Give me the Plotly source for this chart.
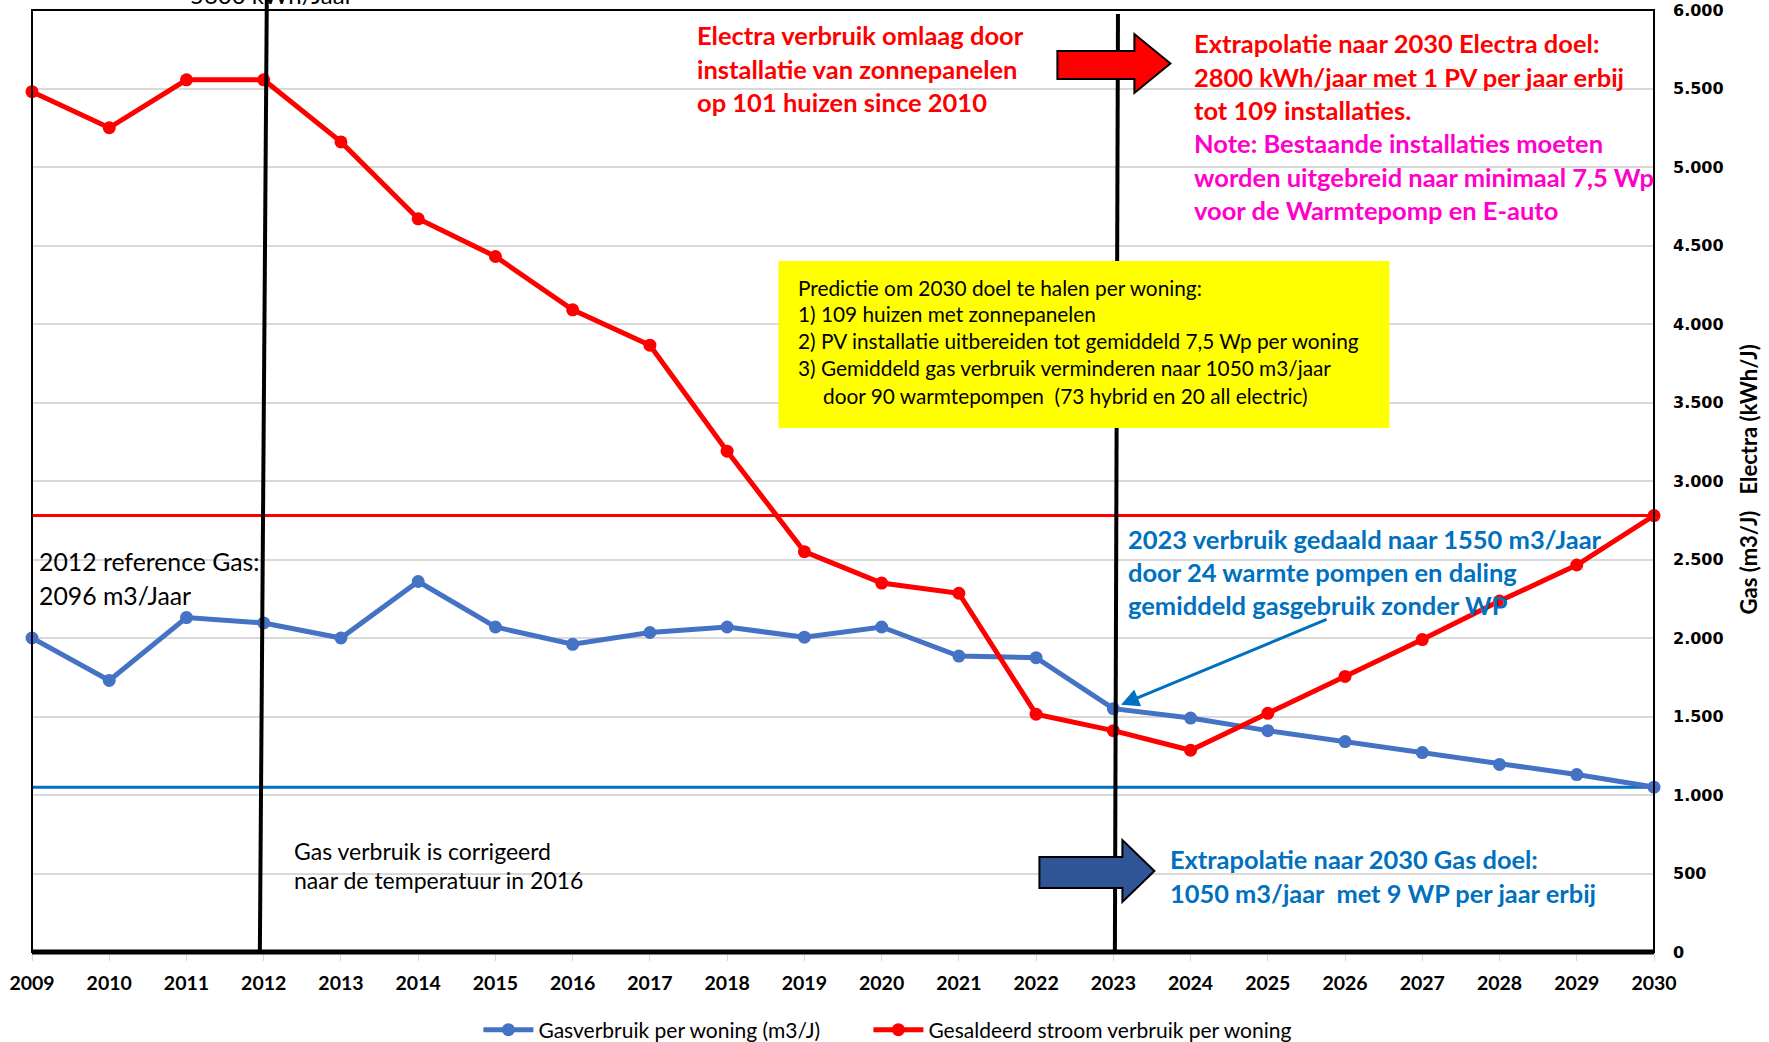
import plotly.graph_objects as go

# ---------------- data ----------------
years = list(range(2009, 2031))
gas = [2000, 1730, 2130, 2096, 2000, 2360, 2070, 1960, 2035, 2070, 2005,
       2070, 1885, 1875, 1550, 1490, 1410, 1340, 1270, 1195, 1130, 1050]
electra = [5480, 5250, 5555, 5555, 5160, 4670, 4430, 4090, 3865, 3190, 2550,
           2350, 2285, 1515, 1410, 1285, 1520, 1755, 1990, 2235, 2465, 2780]
gas_target = 1050
electra_target = 2780
y_ticks = list(range(0, 6001, 500))
gas_name = "Gasverbruik per woning (m3/J)"
electra_name = "Gesaldeerd stroom verbruik per woning"

# ---------------- geometry helpers (page pixels -> paper) ----------------
W, H = 1769, 1042
L, R, T, B = 31.6, 1653.6, 10.0, 952.0


def px(x):
    return (x - L) / (R - L)


def py(y):
    return (B - y) / (B - T)


def yr(year):
    return (year - years[0]) / (years[-1] - years[0])


FONT = "Lato"
RED = "#FF0000"
BLUE_LINE = "#4472C4"
BLUE_TXT = "#0070C0"
MAGENTA = "#FF00CC"

fig = go.Figure()

# target lines
fig.add_trace(go.Scatter(x=[years[0], years[-1]], y=[electra_target] * 2, mode="lines",
                         line=dict(color=RED, width=3), showlegend=False, hoverinfo="skip",
                         cliponaxis=False))
fig.add_trace(go.Scatter(x=[years[0], years[-1]], y=[gas_target] * 2, mode="lines",
                         line=dict(color=BLUE_TXT, width=3), showlegend=False, hoverinfo="skip",
                         cliponaxis=False))

fig.add_trace(go.Scatter(x=years, y=gas, mode="lines+markers", name=gas_name,
                         line=dict(color=BLUE_LINE, width=5),
                         marker=dict(color=BLUE_LINE, size=13), cliponaxis=False,
                         legend="legend"))
fig.add_trace(go.Scatter(x=years, y=electra, mode="lines+markers", name=electra_name,
                         line=dict(color=RED, width=5),
                         marker=dict(color=RED, size=13), cliponaxis=False,
                         legend="legend2"))

shapes = []
# plot border
shapes.append(dict(type="rect", xref="paper", yref="paper", x0=0, y0=0, x1=1, y1=1,
                   line=dict(color="black", width=2), layer="above"))
# thick bottom axis
shapes.append(dict(type="line", xref="paper", yref="paper", x0=0, y0=0, x1=1, y1=0,
                   line=dict(color="black", width=5), layer="above"))
# vertical marker lines (2012 and 2023)
shapes.append(dict(type="line", xref="paper", yref="paper",
                   x0=yr(2012.04), y0=py(0), x1=yr(2011.95), y1=0,
                   line=dict(color="black", width=4), layer="above"))
shapes.append(dict(type="line", xref="paper", yref="paper",
                   x0=yr(2023.06), y0=py(14), x1=yr(2023.02), y1=0,
                   line=dict(color="black", width=4), layer="above"))
# yellow box
shapes.append(dict(type="rect", xref="paper", yref="paper",
                   x0=px(778), x1=px(1389), y0=py(428), y1=py(261),
                   fillcolor="#FFFF00", line=dict(width=0), layer="above"))


def block_arrow(x0, xb, xt, yb0, yb1, yh0, yh1, fill):
    ym = (yh0 + yh1) / 2
    pts = [(x0, yb0), (xb, yb0), (xb, yh0), (xt, ym), (xb, yh1), (xb, yb1), (x0, yb1)]
    path = "M " + " L ".join(f"{px(a):.5f},{py(b):.5f}" for a, b in pts) + " Z"
    return dict(type="path", xref="paper", yref="paper", path=path, fillcolor=fill,
                line=dict(color="black", width=2), layer="above")


shapes.append(block_arrow(1057, 1134, 1170, 51, 79, 34, 93, RED))
shapes.append(block_arrow(1039, 1122, 1154, 857, 888, 840, 902, "#2F5597"))

ann = []


def lines(texts, x, ys, color, size, bold=False):
    for t, y in zip(texts, ys):
        ann.append(dict(text=t, xref="paper", yref="paper", x=px(x), y=py(y),
                        xanchor="left", yanchor="middle", showarrow=False,
                        font=dict(family=FONT, size=size, color=color,
                                  weight="bold" if bold else "normal")))


lines(["Electra verbruik omlaag door", "installatie van zonnepanelen",
       "op 101 huizen since 2010"], 695, [35, 69, 102], RED, 25.5, True)
lines(["Extrapolatie naar 2030 Electra doel:", "2800 kWh/jaar met 1 PV per jaar erbij",
       "tot 109 installaties."], 1192, [43, 77, 110], RED, 25.5, True)
lines(["Note: Bestaande installaties moeten", "worden uitgebreid naar minimaal 7,5 Wp",
       "voor de Warmtepomp en E-auto"], 1192, [143, 177, 210], MAGENTA, 25.5, True)
lines(["Predictie om 2030 doel te halen per woning:", "1) 109 huizen met zonnepanelen",
       "2) PV installatie uitbereiden tot gemiddeld 7,5 Wp per woning",
       "3) Gemiddeld gas verbruik verminderen naar 1050 m3/jaar"],
      796, [287, 313, 340, 367], "black", 20.8)
lines(["door 90 warmtepompen\u00a0\u00a0(73 hybrid en 20 all electric)"], 821, [395], "black", 20.8)
lines(["2012 reference Gas:", "2096 m3/Jaar"], 37, [561, 595], "black", 24.8)
lines(["2023 verbruik gedaald naar 1550 m3/Jaar", "door 24 warmte pompen en daling",
       "gemiddeld gasgebruik zonder WP"], 1126, [539, 572, 605], BLUE_TXT, 25.5, True)
lines(["Gas verbruik is corrigeerd", "naar de temperatuur in 2016"], 292, [851, 880],
      "black", 23)
lines(["Extrapolatie naar 2030 Gas doel:",
       "1050 m3/jaar\u00a0\u00a0met 9 WP per jaar erbij"], 1168, [859, 893], BLUE_TXT, 25.4, True)

# clipped text at the very top
ann.append(dict(text="5600 kWh/Jaar", xref="paper", yref="paper", x=px(272), y=py(-6),
                xanchor="center", yanchor="middle", showarrow=False,
                font=dict(family=FONT, size=24, color="black")))

# blue pointer arrow towards the 2023 gas point
ann.append(dict(text="", x=2023.1, y=gas[years.index(2023)] + 25, xref="x", yref="y",
                ax=207, ay=-86, showarrow=True, arrowhead=2, arrowsize=1.2,
                arrowwidth=3, arrowcolor=BLUE_TXT))

# right axis title
ann.append(dict(text="<b>Gas (m3/J)\u00a0\u00a0\u00a0Electra (kWh/J)</b>", xref="paper",
                yref="paper", x=px(1748), y=py(479), xanchor="center", yanchor="middle",
                textangle=-90, showarrow=False,
                font=dict(family=FONT, size=22, color="black")))

legend_style = dict(orientation="h", yanchor="middle", y=py(1030), xanchor="left",
                    font=dict(family=FONT, size=21, color="black"),
                    bgcolor="rgba(0,0,0,0)", itemwidth=50)

fig.update_layout(
    width=W, height=H,
    margin=dict(l=L, r=W - R, t=T, b=H - B, pad=0, autoexpand=False),
    paper_bgcolor="white", plot_bgcolor="white",
    separators=",.",
    shapes=shapes, annotations=ann,
    showlegend=True,
    legend=dict(legend_style, x=px(478)),
    legend2=dict(legend_style, x=px(868)),
    xaxis=dict(range=[years[0], years[-1]], tickvals=years, ticktext=[str(y) for y in years],
               showgrid=False, zeroline=False, showline=False, automargin=False,
               ticks="outside", ticklen=8, tickcolor="#D9D9D9", tickwidth=1,
               ticklabelstandoff=6,
               tickfont=dict(family=FONT, size=19.5, color="black", weight="bold")),
    yaxis=dict(range=[0, 6000], tickvals=y_ticks, tickformat=",d", side="right",
               showgrid=True, gridcolor="#D9D9D9", gridwidth=1.5, zeroline=False,
               showline=False, ticks="", ticklabelstandoff=18, automargin=False,
               tickfont=dict(family="DejaVu Sans", size=16, color="black", weight="bold")),
)

fig.write_html("out.html", config={"displayModeBar": False},
               post_script="document.body.style.margin='0';")
